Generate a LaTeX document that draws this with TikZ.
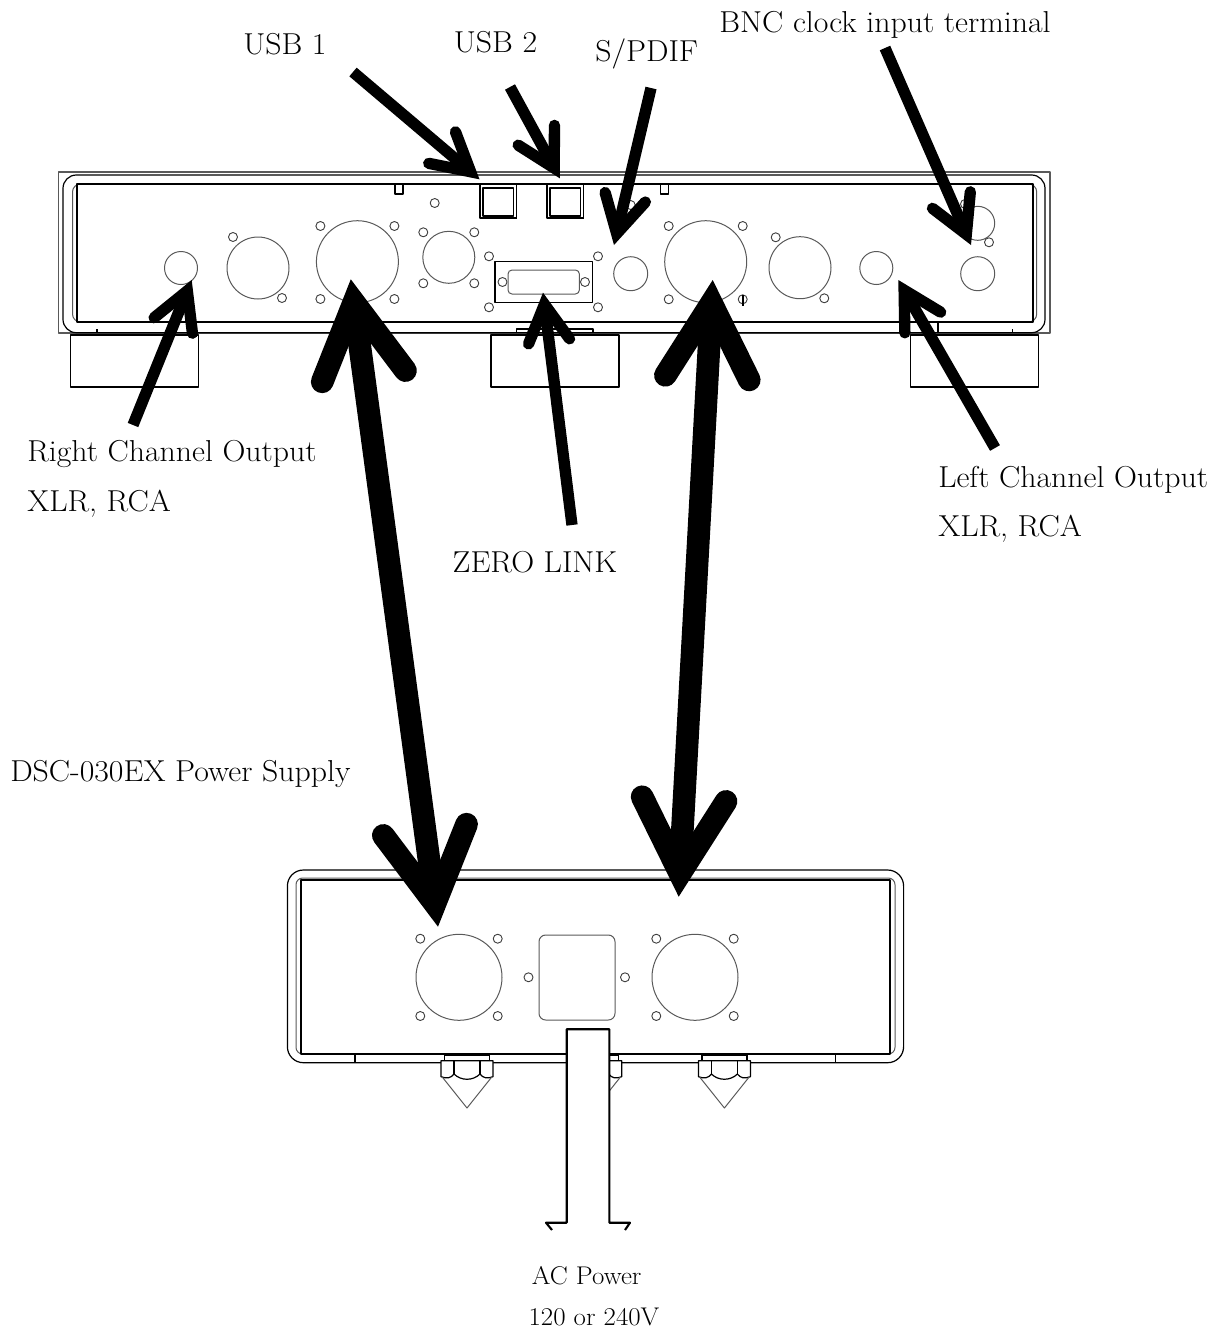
\documentclass[tikz,border=0pt]{standalone}
\usepackage{fontspec}
\setmainfont{Latin Modern Roman}[FakeStretch=1.05]
\usetikzlibrary{arrows.meta}

\begin{document}
\begin{tikzpicture}[
  x = 0.75pt,
  y = -0.75pt,
  line join=round,
  lbl/.style   = {font=\fontsize{22.7}{26}\selectfont, inner sep=0pt, anchor=base},
  smalllbl/.style = {lbl, font=\fontsize{19.2}{23}\selectfont},
  edge/.style  = {line width=0.9pt, draw=black},
  soft/.style  = {line width=0.75pt, draw=black!65},
  pin/.style   = {line width=0.7pt, draw=black!75},
  thinarrow/.style = {line width=8.5pt, draw=black, -{Straight Barb[length=28pt,width=31pt,line width=8.5pt,line cap=round,line join=miter]}},
  fatarrow/.style  = {line width=17pt, draw=black,
    {Straight Barb[length=56pt,width=63pt,line width=17pt,line cap=round,line join=miter]}-{Straight Barb[length=56pt,width=63pt,line width=17pt,line cap=round,line join=miter]}}
]
  \useasboundingbox (0,0) rectangle (1224,1329);

  % DAC case
  \draw[soft, line width=1.2pt] (58.5,172) rectangle (1050,333);
  \draw[edge, rounded corners=10pt] (63,175) rectangle (1045,332.7);
  \draw[soft, rounded corners=6pt] (72.5,184) rectangle (1036.7,322);
  \draw[line width=1.3pt] (77,184) rectangle (1033,322);

  % DAC feet
  \foreach \fx in {70.7,491,910.7}
    \draw[edge] (\fx,335) rectangle +(128,52);
  \draw[edge] (516.5,333) -- (516.5,329) -- (593,329) -- (593,333);
  \draw[edge] (97,329) -- (97,333) (938,322) -- (938,333) (1012.7,329) -- (1012.7,333);

  % DAC notches and USB ports
  \foreach \nx in {395,660.7}
    \draw[edge, fill=white] (\nx,184) rectangle +(8,10);
  \foreach \ux in {480,547} {
    \draw[edge] (\ux,184) -- (\ux,218) -- +(36.5,0) -- +(36.5,-34);
    \draw[line width=1.2pt] (\ux,218) -- +(36.5,0);
    \draw[edge] (\ux+3,188) rectangle +(30.5,28);
  }

  % DAC sockets
  \foreach \cx/\cy/\cr in {181/268/16.5, 258/268/31, 357.4/261.7/41, 448.8/257.3/26,
      630.7/273.7/17, 705.7/261.7/41, 800/267.7/31, 876.3/268/16.5,
      977.7/223.3/17, 977.7/273.7/17}
    \draw[soft] (\cx,\cy) circle (\cr);

  % DAC screw holes
  \foreach \hx/\hy in {233/237, 282/298, 320.4/226, 394.4/226, 320.4/299, 394.4/299,
      434.7/203, 423.3/232.3, 474.3/232.3, 423.3/283.3, 474.3/283.3,
      502.5/282, 585/282, 489/256.3, 598/256.3, 489/307.3, 598/307.3,
      630.7/205, 668.7/226, 742.7/226, 668.7/299.3, 742.7/299.3,
      775.7/237.3, 824.3/298.3, 965/204, 989/242.3}
    \draw[pin] (\hx,\hy) circle (4.5);
  \draw[edge] (743,295) -- (743,306);

  % D-sub
  \draw[line width=1pt] (495,261.7) rectangle (592.3,302.3);
  \draw[soft, rounded corners=3pt] (508,270) rectangle (579.4,294);

  % power supply case
  \draw[edge, rounded corners=12pt] (287.4,870) rectangle (903.6,1062.7);
  \draw[soft, rounded corners=5pt] (296,878) rectangle (895,1054);
  \draw[line width=1pt] (301,880) -- (890,880) -- (890,1054) -- (301,1054) -- cycle;
  \draw[edge] (355,1054) -- (355,1062) (835.6,1054) -- (835.6,1062);

  % power supply sockets
  \foreach \cx in {459,695} {
    \draw[soft] (\cx,977.3) circle (43);
    \foreach \dx in {-38.7,38.7}
      \foreach \hy in {938.7,1016}
        \draw[pin] (\cx+\dx,\hy) circle (4.5);
  }
  \draw[soft, rounded corners=5pt] (539,935) rectangle (615,1020);
  \foreach \hx in {528.5,625}
    \draw[pin] (\hx,977.3) circle (4.5);

  % spikes
  \foreach \fx in {467,595.7,724.4} {
    \draw[edge] (\fx-22.5,1055) rectangle (\fx+22.5,1060.7);
    \draw[edge, fill=white] (\fx-26,1060.7) -- (\fx+26,1060.7) -- (\fx+26,1076.7)
      .. controls (\fx+20,1079) and (\fx+16,1078) .. (\fx+13,1074)
      .. controls (\fx+6,1081) and (\fx-6,1081) .. (\fx-13,1074)
      .. controls (\fx-16,1078) and (\fx-20,1079) .. (\fx-26,1076.7) -- cycle;
    \draw[edge] (\fx-13,1060.7) -- (\fx-13,1074) (\fx+13,1060.7) -- (\fx+13,1074);
    \draw[soft] (\fx-25,1076.7) -- (\fx,1108) -- (\fx+25,1076.7);
  }

  % AC cord
  \fill[white] (566.7,1029.3) rectangle (609.4,1224);
  \draw[line width=1.6pt] (552,1230) -- (546,1222.7) -- (566.7,1222.7) -- (566.7,1029.3)
    -- (609.4,1029.3) -- (609.4,1222.7) -- (630,1222.7) -- (625,1230);

  % labels
  \node (usbone) at (285,54) [lbl] {USB 1};
  \node (usbtwo) at (495.5,52) [lbl] {USB 2};
  \node (spdif) at (595,61.7) [lbl, anchor=base west] {S/PDIF};
  \node (bnc) at (885,32.7) [lbl] {BNC clock input terminal};
  \node (rightch) at (27,461.7) [lbl, anchor=base west] {Right Channel Output};
  \node (rightxlr) at (27,511.7) [lbl, anchor=base west] {XLR, RCA};
  \node (zerolink) at (535,572.7) [lbl] {ZERO LINK};
  \node (leftch) at (938,487) [lbl, anchor=base west] {Left Channel Output};
  \node (leftxlr) at (938,536) [lbl, anchor=base west] {XLR, RCA};
  \node (psu) at (10,781.7) [lbl, anchor=base west] {DSC-030EX Power Supply};
  \node (acpower) at (586.7,1284) [smalllbl] {AC Power};
  \node (acvolt) at (594,1325) [smalllbl] {120 or 240V};

  % arrow ends
  \coordinate (usboneT) at (353,72);   \coordinate (usboneH) at (479.5,179.3);
  \coordinate (usbtwoT) at (510,87);   \coordinate (usbtwoH) at (559.8,178.3);
  \coordinate (spdifT) at (651,88);    \coordinate (spdifH) at (614,245);
  \coordinate (bncT) at (885,48);      \coordinate (bncH) at (971,245);
  \coordinate (rightT) at (133,425);   \coordinate (rightH) at (191.7,280);
  \coordinate (zeroT) at (572,525);    \coordinate (zeroH) at (543,292.7);
  \coordinate (leftT) at (995,448);    \coordinate (leftH) at (898.3,280);
  \coordinate (dcaT) at (350.8,279.3); \coordinate (dcaB) at (438,926.7);
  \coordinate (dcbT) at (712.7,280);   \coordinate (dcbB) at (678.7,896.7);

  % arrows
  \draw[thinarrow] (usboneT) -- (usboneH);
  \draw[thinarrow] (usbtwoT) -- (usbtwoH);
  \draw[thinarrow] (spdifT) -- (spdifH);
  \draw[thinarrow] (bncT) -- (bncH);
  \draw[thinarrow] (rightT) -- (rightH);
  \draw[thinarrow] (zeroT) -- (zeroH);
  \draw[thinarrow] (leftT) -- (leftH);
  \draw[fatarrow] (dcaT) -- (dcaB);
  \draw[fatarrow] (dcbT) -- (dcbB);
\end{tikzpicture}
\end{document}
